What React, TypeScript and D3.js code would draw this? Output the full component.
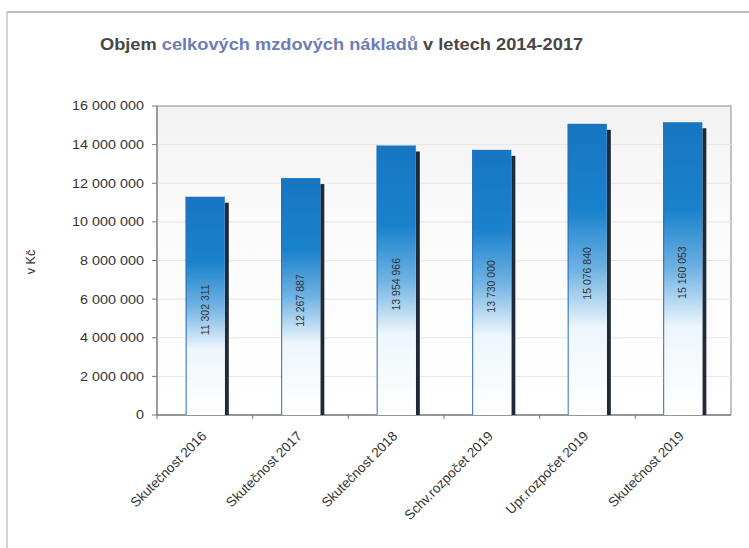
import React from "react";
import * as d3 from "d3";

const categories = [
  "Skutečnost 2016",
  "Skutečnost 2017",
  "Skutečnost 2018",
  "Schv.rozpočet 2019",
  "Upr.rozpočet 2019",
  "Skutečnost 2019",
];
const values = [11302311, 12267887, 13954966, 13730000, 15076840, 15160053];
const yTicks = [0, 2000000, 4000000, 6000000, 8000000, 10000000, 12000000, 14000000, 16000000];

const W = 749;
const H = 548;
const M = { left: 157, right: 731, top: 106, bottom: 415 };

const fmt = (v: number) => d3.format(",")(v).replace(/,/g, " ");

export default function App() {
  const x = d3.scaleBand<string>().domain(categories).range([M.left, M.right]).paddingInner(0.59).paddingOuter(0.3);
  const y = d3.scaleLinear().domain([0, 16000000]).range([M.bottom, M.top]);
  const bw = x.bandwidth();
  const band = d3.scaleBand<string>().domain(categories).range([M.left, M.right]);

  return (
    <svg width={W} height={H} style={{ position: "absolute", left: 0, top: 0, fontFamily: "Arial, 'Liberation Sans', sans-serif" }}>
      <defs>
        <linearGradient id="barGrad" x1="0" y1="0" x2="0" y2="1">
          <stop offset="0%" stopColor="#1775c2" />
          <stop offset="30%" stopColor="#1a82cc" />
          <stop offset="50%" stopColor="#6fb2e3" />
          <stop offset="70%" stopColor="#eef6fc" />
          <stop offset="100%" stopColor="#ffffff" />
        </linearGradient>
        <linearGradient id="bgGrad" x1="0" y1="0" x2="0" y2="1">
          <stop offset="0%" stopColor="#f2f2f2" />
          <stop offset="40%" stopColor="#fbfbfb" />
          <stop offset="100%" stopColor="#ffffff" />
        </linearGradient>
      </defs>
      <rect x={0} y={0} width={W} height={H} fill="#ffffff" />
      {/* outer frame */}
      <line x1={7} y1={12} x2={W} y2={12} stroke="#a8a8a8" strokeWidth={1.5} />
      <line x1={7} y1={12} x2={7} y2={H} stroke="#b8b8b8" strokeWidth={1.2} />

      {/* title */}
      <g transform="translate(100,50) scale(1.14,1)">
        <text x={0} y={0} fontSize={16} fontWeight="bold" fill="#474747">
          Objem <tspan fill="#6c7cb8">celkových mzdových nákladů</tspan> v letech 2014-2017
        </text>
      </g>

      {/* plot background */}
      <rect x={M.left} y={M.top} width={M.right - M.left} height={M.bottom - M.top} fill="url(#bgGrad)" stroke="#8a8a8a" strokeWidth={1} />

      {/* gridlines */}
      {yTicks.slice(1, -1).map((t) => (
        <line key={"g" + t} x1={M.left} x2={M.right} y1={y(t)} y2={y(t)} stroke="#e6e6e6" strokeWidth={1} />
      ))}

      {/* y axis */}
      <line x1={M.left} x2={M.left} y1={M.top} y2={M.bottom} stroke="#777" />
      {yTicks.map((t) => (
        <g key={"t" + t}>
          <line x1={M.left - 5} x2={M.left} y1={y(t)} y2={y(t)} stroke="#777" />
          <g transform={`translate(${M.left - 13},${y(t)}) scale(1.15,1)`}>
            <text x={0} y={0} dy="0.35em" textAnchor="end" fontSize={12.5} fill="#333">
              {fmt(t)}
            </text>
          </g>
        </g>
      ))}
      <text transform={`translate(35,262) rotate(-90)`} textAnchor="middle" fontSize={12.5} fill="#333">
        v Kč
      </text>

      {/* x axis */}
      <line x1={M.left} x2={M.right} y1={M.bottom} y2={M.bottom} stroke="#666" strokeWidth={1.2} />
      {categories.map((c) => (
        <line key={"xt" + c} x1={band(c)!} x2={band(c)!} y1={M.bottom} y2={M.bottom + 4} stroke="#777" />
      ))}

      {/* bars */}
      {categories.map((c, i) => {
        const x0 = x(c)!;
        const yt = y(values[i]);
        return (
          <g key={"b" + c}>
            <rect x={x0 + bw} y={yt + 6} width={4} height={M.bottom - yt - 6} fill="#1f2a38" />
            <rect x={x0} y={yt} width={bw} height={M.bottom - yt} fill="url(#barGrad)" />
            <line x1={x0 + 0.5} x2={x0 + 0.5} y1={yt} y2={M.bottom} stroke="#2a6fb8" strokeWidth={1} />
            <text
              transform={`translate(${x0 + bw / 2},${(yt + M.bottom) / 2 + 4}) rotate(-90)`}
              textAnchor="middle"
              dy="0.35em"
              fontSize={10.5}
              fill="#333"
            >
              {fmt(values[i])}
            </text>
          </g>
        );
      })}

      {/* x labels */}
      {categories.map((c) => {
        const cx = x(c)! + bw / 2;
        return (
          <text
            key={"xl" + c}
            transform={`translate(${cx + 2},${M.bottom + 22}) rotate(-45)`}
            textAnchor="end"
            fontSize={13.5}
            fill="#333"
          >
            {c}
          </text>
        );
      })}
    </svg>
  );
}
